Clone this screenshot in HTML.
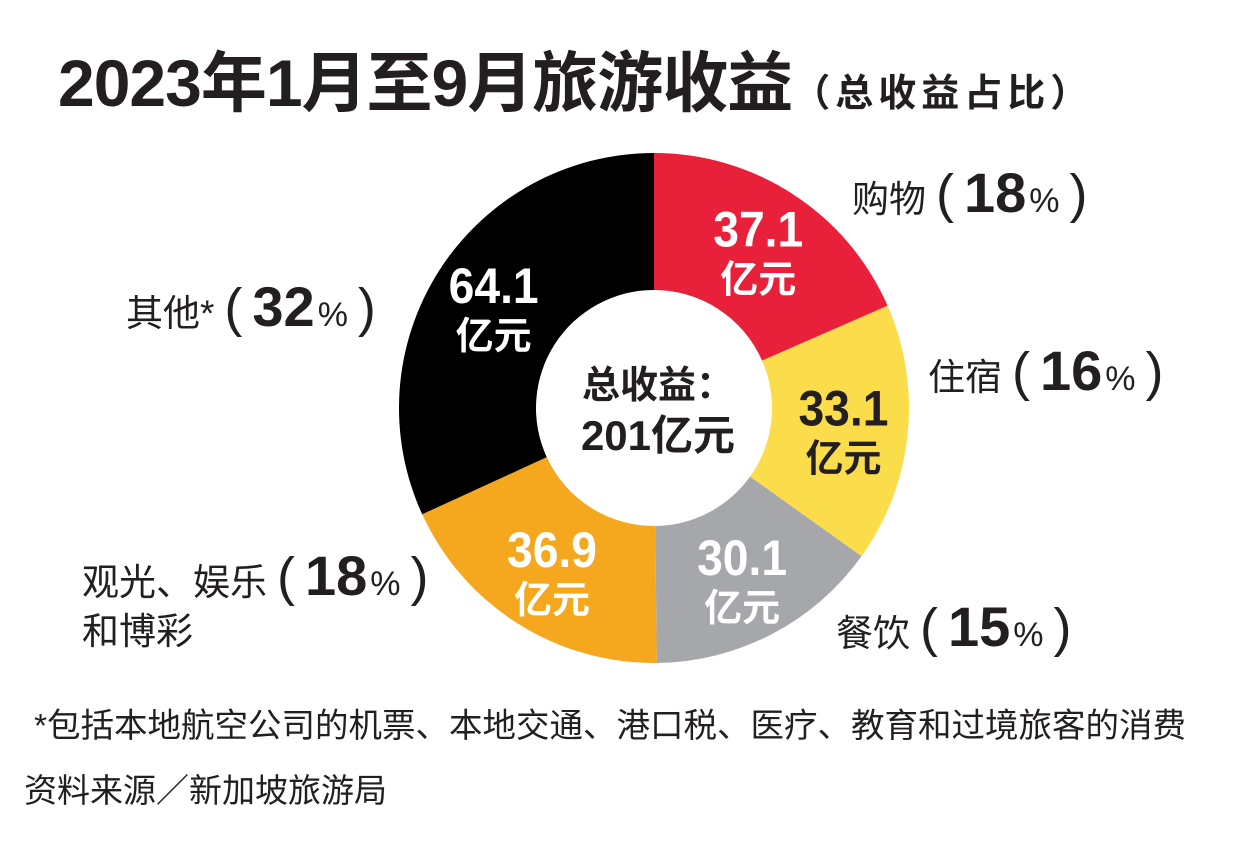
<!DOCTYPE html>
<html><head><meta charset="utf-8"><style>
body{margin:0;background:#fff;width:1251px;height:854px;overflow:hidden;position:relative;font-family:"Liberation Sans","Noto Sans CJK SC",sans-serif;color:#231f20}
.t{position:absolute;white-space:nowrap}
.lab{font-size:37px}
.pct{font-size:56px;font-weight:bold}
.pct small{font-size:34px;font-weight:normal;margin-left:3px}
.par{font-size:54px;font-weight:normal;margin:0 10px}
</style></head><body>
<div class="t" style="left:58px;top:30px;font-size:66px;font-weight:bold;letter-spacing:-1px">2023年1月至9月旅游收益<span style="font-size:38px;letter-spacing:5px">（总收益占比）</span></div>
<svg id="c" width="1251" height="854" style="position:absolute;left:0;top:0"></svg>
<div class="t lab" style="left:852px;top:160px">购物<span class="pct"><span class="par">(</span>18<small>%</small><span class="par">)</span></span></div>
<div class="t lab" style="left:928px;top:338px">住宿<span class="pct"><span class="par">(</span>16<small>%</small><span class="par">)</span></span></div>
<div class="t lab" style="left:836px;top:594px">餐饮<span class="pct"><span class="par">(</span>15<small>%</small><span class="par">)</span></span></div>
<div class="t lab" style="left:82px;top:552px;line-height:48px">观光、娱乐<span class="pct"><span class="par">(</span>18<small>%</small><span class="par">)</span></span><br>和博彩</div>
<div class="t lab" style="left:126px;top:274px">其他*<span class="pct"><span class="par">(</span>32<small>%</small><span class="par">)</span></span></div>
<div class="t" style="left:34px;top:698px;font-size:33.5px">*包括本地航空公司的机票、本地交通、港口税、医疗、教育和过境旅客的消费</div>
<div class="t" style="left:24px;top:764px;font-size:33px">资料来源／新加坡旅游局</div>
<script>
const categories=["购物","住宿","餐饮","观光、娱乐和博彩","其他"];
const values=[37.1,33.1,30.1,36.9,64.1];
const valueLabels=["37.1","33.1","30.1","36.9","64.1"];
const colors=["#e8203a","#fbdd4c","#a6a7aa","#f5a81d","#000000"];
const textColors=["#fff","#231f20","#fff","#fff","#fff"];
const svg=document.getElementById('c');
const NS="http://www.w3.org/2000/svg";
const cx=654,cy=408,R=255,r=118;
const total=values.reduce((a,b)=>a+b,0);
function pt(a,rad){return [cx+rad*Math.sin(a),cy-rad*Math.cos(a)];}
let acc=0;
values.forEach((v,i)=>{
  const a0=acc/total*2*Math.PI; acc+=v; const a1=acc/total*2*Math.PI;
  const lg=(a1-a0)>Math.PI?1:0;
  const p1=pt(a0,R),p2=pt(a1,R),p3=pt(a1,r),p4=pt(a0,r);
  const p=document.createElementNS(NS,'path');
  p.setAttribute('d',`M${p1}A${R},${R} 0 ${lg} 1 ${p2}L${p3}A${r},${r} 0 ${lg} 0 ${p4}Z`);
  p.setAttribute('fill',colors[i]);
  
  
  svg.appendChild(p);
  const am=(a0+a1)/2; const [tx,ty]=pt(am,(R+r)/2+4);
  const g=document.createElementNS(NS,'text');
  
  
  g.setAttribute('x',tx);g.setAttribute('y',ty);
  g.setAttribute('text-anchor','middle');g.setAttribute('fill',textColors[i]);
  g.setAttribute('font-weight','bold');
  g.innerHTML=`<tspan x="${tx}" dy="-2" font-size="50" textLength="90" lengthAdjust="spacingAndGlyphs">${valueLabels[i]}</tspan><tspan x="${tx}" dy="46" font-size="38">亿元</tspan>`;
  svg.appendChild(g);
});
const ct=document.createElementNS(NS,'text');


ct.setAttribute('text-anchor','middle');ct.setAttribute('font-weight','bold');ct.setAttribute('fill','#231f20');
ct.innerHTML=`<tspan x="${cx+4}" y="${cy-10}" font-size="38">总收益：</tspan><tspan x="${cx+4}" y="${cy+42}" font-size="42">201亿元</tspan>`;
svg.appendChild(ct);
</script>
</body></html>
